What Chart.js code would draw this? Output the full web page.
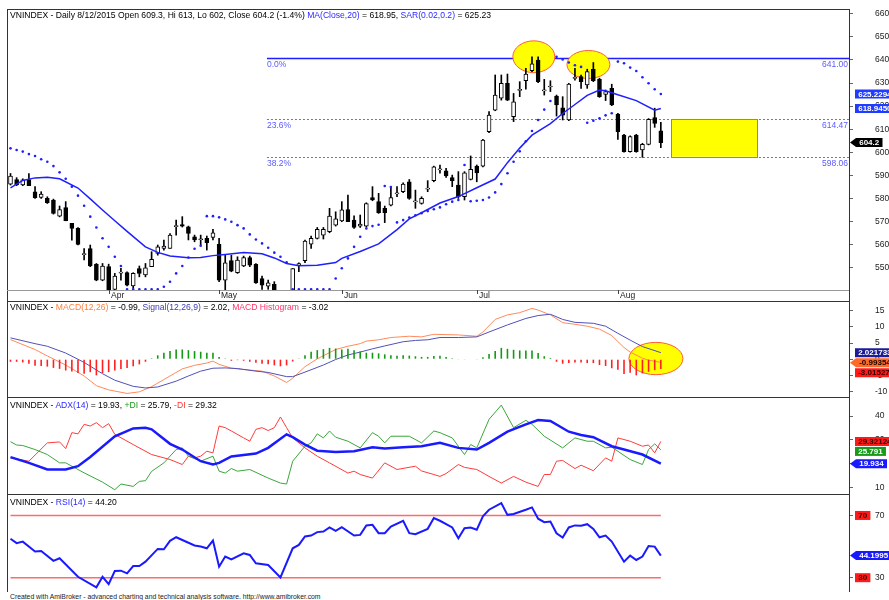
<!DOCTYPE html>
<html lang="en">
<head>
<meta charset="UTF-8" />
<title>VNINDEX Daily</title>
<style>
  body { margin: 0; background: #fff; font-family: "Liberation Sans", Arial, sans-serif; }
  #page { position: relative; width: 889px; height: 600px; overflow: hidden; background: #fff; }
  canvas { position: absolute; left: 0; }
  .hdr { position: absolute; left: 10px; font-size: 8.6px; line-height: 10px; color: #000; white-space: nowrap; z-index: 2; }
  .blue { color: #2a2aff; }
  .orange { color: #ff7f3f; }
  .navy { color: #3b3bb0; }
  .pink { color: #ff3366; }
  .green { color: #1a9a1a; }
  .red { color: #ff3333; }
  #foot { position: absolute; left: 10px; top: 593px; font-size: 6.8px; line-height: 8px; color: #222; white-space: nowrap; z-index: 2; }
</style>
<script src="https://cdn.jsdelivr.net/npm/chart.js@4.4.0/dist/chart.umd.min.js"></script>
</head>
<body>
<div id="page">
  <canvas id="cPrice" width="889" height="301" style="top:0"></canvas>
  <canvas id="cMacd" width="889" height="96" style="top:301px"></canvas>
  <canvas id="cAdx" width="889" height="97" style="top:397px"></canvas>
  <canvas id="cRsi" width="889" height="98" style="top:494px"></canvas>

  <div class="hdr" style="top:10px">VNINDEX - Daily 8/12/2015 Open 609.3, Hi 613, Lo 602, Close 604.2 (-1.4%) <span class="blue">MA(Close,20)</span> = 618.95, <span class="blue">SAR(0.02,0.2)</span> = 625.23</div>
  <div class="hdr" style="top:302px">VNINDEX - <span class="orange">MACD(12,26)</span> = -0.99, <span class="navy">Signal(12,26,9)</span> = 2.02, <span class="pink">MACD Histogram</span> = -3.02</div>
  <div class="hdr" style="top:400px">VNINDEX - <span class="blue">ADX(14)</span> = 19.93, <span class="green">+DI</span> = 25.79, <span class="red">-DI</span> = 29.32</div>
  <div class="hdr" style="top:497px">VNINDEX - <span class="blue">RSI(14)</span> = 44.20</div>
  <div id="foot">Created with AmiBroker - advanced charting and technical analysis software. http://www.amibroker.com</div>
</div>

<script>
// month starts (bar index of first trading day)
const monthNames = ["Apr", "May", "Jun", "Jul", "Aug"];
const monthStartIdx = [16, 34, 54, 76, 99];

// daily candles, one value per bar
const open = [
  586.2,588.2,585.8,588.2,582.9,580.4,580.0,579.3,572.3,576.0,
  569.2,567.0,555.6,558.3,551.4,544.6,550.4,540.5,547.6,547.8,
  542.1,549.6,546.8,550.4,556.2,558.3,558.3,567.8,568.7,567.7,
  563.4,562.1,562.7,563.1,560.1,544.6,553.0,547.8,550.7,554.3,
  551.4,545.3,542.0,542.8,539.5,535.5,536.0,550.8,553.0,560.2,
  562.7,564.1,565.6,568.4,570.2,575.2,570.6,568.0,568.0,580.4,
  578.6,575.7,577.1,582.0,582.9,587.2,578.5,577.8,584.0,587.7,
  592.4,592.0,589.0,585.8,580.7,588.2,594.0,594.0,608.9,618.3,
  623.4,629.9,615.4,626.8,631.0,635.4,640.0,626.6,628.3,624.4,
  619.3,614.0,632.0,632.8,629.2,636.0,631.6,625.1,627.7,616.6,
  607.5,600.3,607.5,601.0,603.4,615.0,609.3
];
const high = [
  590.8,589.0,588.5,590.8,585.1,582.9,580.7,579.7,576.7,578.6,
  569.2,567.4,558.3,559.8,551.8,551.8,551.5,547.5,549.7,548.2,
  547.8,550.7,551.8,556.9,559.8,561.9,564.8,570.6,572.1,568.0,
  564.1,564.1,563.7,566.6,562.7,555.4,555.4,554.7,555.0,555.0,
  551.8,546.3,544.6,543.9,540.1,539.0,549.6,552.1,561.9,563.7,
  567.4,567.4,575.7,574.2,578.6,581.4,572.4,572.8,578.1,585.1,
  582.2,576.7,585.1,585.1,586.8,588.2,583.6,580.7,587.7,594.0,
  594.5,593.0,590.1,591.6,591.6,598.4,594.5,605.6,617.6,633.5,
  633.5,633.9,625.5,630.6,636.4,641.4,641.4,631.6,631.0,624.8,
  624.1,629.9,636.4,633.5,636.0,638.9,632.1,627.0,629.5,616.9,
  607.8,607.1,607.8,603.9,614.6,619.1,613.0
];
const low = [
  585.8,585.5,585.5,585.5,580.0,580.0,577.8,573.2,572.0,570.3,
  561.9,559.8,553.3,550.4,544.3,544.3,538.5,539.5,544.6,542.1,
  541.0,546.0,546.0,550.4,555.4,557.6,558.3,564.1,567.6,562.0,
  561.2,559.8,557.6,562.0,543.9,540.3,548.2,547.5,550.4,550.4,
  543.1,540.6,540.6,540.0,533.5,532.0,535.5,548.2,552.1,558.3,
  562.4,562.4,565.1,568.0,569.9,569.9,567.0,567.4,567.7,579.0,
  573.5,569.5,576.7,580.7,582.5,579.6,575.7,577.5,582.9,587.2,
  590.9,589.1,585.1,580.0,579.3,588.0,587.2,593.7,608.5,618.0,
  622.6,622.4,613.3,624.1,627.3,634.9,630.2,624.8,626.3,615.7,
  614.0,613.7,631.3,627.7,627.7,630.6,623.8,622.4,620.2,605.6,
  600.0,600.0,600.0,597.8,603.2,610.8,602.0
];
const close = [
  589.7,585.8,588.0,585.5,580.3,581.9,578.1,573.5,575.2,570.3,
  567.0,560.1,555.8,550.7,544.6,550.7,539.5,546.3,548.0,542.4,
  547.5,547.5,549.9,553.6,559.0,559.3,564.1,568.1,568.0,564.8,
  562.0,562.3,560.8,565.1,544.6,552.1,548.5,553.3,554.3,551.1,
  543.4,542.4,543.4,540.3,535.0,533.5,549.6,551.8,561.5,562.7,
  566.6,566.6,572.3,571.1,575.0,569.9,567.4,568.9,577.8,579.3,
  573.8,573.8,580.4,582.3,586.2,580.0,578.7,580.0,584.2,593.7,
  592.7,589.7,587.7,580.7,591.1,592.6,591.1,605.3,616.1,624.8,
  629.9,622.6,621.9,627.2,633.9,638.3,630.6,626.8,628.5,620.5,
  616.1,629.6,632.2,630.6,635.0,631.0,624.1,626.3,620.5,608.9,
  600.3,606.8,600.3,603.4,614.3,612.5,604.2
];
// parabolic SAR, one value per bar
const sar = [
  601.7,601.0,600.3,599.2,598.4,597.0,595.9,594.0,591.3,588.5,
  585.1,581.2,576.8,572.1,567.4,562.7,559.0,554.7,550.7,540.6,
  540.6,540.6,540.6,540.6,540.6,541.7,543.9,547.5,550.7,554.4,
  558.2,559.5,572.3,572.3,571.8,570.9,569.9,568.4,567.0,564.4,
  562.2,560.5,558.6,556.5,554.7,552.3,540.6,540.6,540.6,540.6,
  540.6,540.6,540.6,545.3,549.7,554.0,559.0,563.4,567.0,568.0,
  568.6,585.4,584.9,569.6,570.6,571.7,572.7,573.6,574.5,575.3,
  576.1,577.5,578.6,579.3,594.5,578.8,579.0,579.3,580.4,582.6,
  586.2,590.9,595.9,600.4,604.8,609.2,614.0,618.5,622.2,641.4,
  640.2,638.9,637.7,637.0,612.8,613.7,614.7,616.0,616.9,639.3,
  638.6,636.7,635.2,632.5,629.9,627.3,625.23
];
// MA(Close,20), read at these bars
const maIdx = [0,2,4,6,8,11,13,15,17,19,22,24,26,29,31,33,35,38,41,43,45,47,50,53,54,57,60,63,65,67,70,73,76,79,81,83,85,88,90,92,94,96,97,99,102,105,106];
const maVal = [584.6,587.8,588.9,589.2,588.5,584.5,579.8,575.0,570.3,565.7,559.0,556.6,555.0,554.3,554.4,555.2,555.7,556.6,556.0,554.2,551.8,550.8,551.0,552.2,554.0,557.0,560.3,566.5,571.1,573.8,578.0,580.8,584.6,588.4,595.5,601.8,607.4,612.4,616.8,620.7,624.7,627.0,626.7,624.9,622.4,618.2,618.95];

// Fibonacci retracement levels
const fibNames = ["0.0%", "23.6%", "38.2%"];
const fibLevels = [641.00, 614.47, 598.06];

// MACD pane
const macdIdx = [0,4,6,9,12,14,16,19,21,23,25,28,30,32,33,34,36,38,41,43,45,46,48,50,53,55,57,58,60,62,65,67,69,71,73,76,77,79,81,83,85,86,88,90,92,94,96,98,100,101,103,104,106];
const macdVal = [6.05,3.0,1.0,-1.8,-5.2,-8.2,-9.5,-10.6,-10.1,-8.5,-6.3,-3.0,-1.9,-1.2,-0.6,-1.6,-2.8,-3.2,-3.7,-5.2,-7.2,-5.9,-2.3,0.1,3.0,4.0,4.8,5.6,6.0,6.7,7.1,6.9,7.7,7.6,7.5,7.1,8.4,12.3,13.7,14.4,15.7,15.2,13.7,11.3,10.8,10.2,9.3,7.3,3.6,2.2,0.3,-0.3,-0.99];
const signalIdx = [0,4,6,9,12,15,17,20,22,24,27,29,31,33,35,37,40,42,45,46,48,51,53,55,57,59,61,64,66,68,70,73,76,78,81,84,86,88,90,92,95,97,99,101,103,106];
const signalVal = [6.6,4.8,4.0,1.9,-1.0,-4.5,-6.5,-8.4,-8.9,-8.6,-6.8,-5.2,-3.7,-2.8,-2.7,-2.9,-3.7,-4.1,-5.4,-5.4,-4.0,-1.8,-0.1,1.3,2.2,3.2,4.1,5.4,5.8,6.0,6.7,6.7,6.9,8.4,10.6,12.6,13.5,13.9,12.3,11.4,11.1,10.2,8.0,5.9,3.9,2.02];
const histVal = [
  -0.8,-0.8,-1.0,-1.4,-2.0,-2.1,-2.3,-2.7,-3.0,-3.5,
  -3.8,-4.3,-4.5,-4.0,-5.0,-4.3,-4.0,-3.5,-3.0,-2.7,
  -2.2,-1.6,-0.8,0.3,1.2,2.0,2.5,3.0,3.0,2.8,
  2.5,2.3,2.0,2.0,0.7,0.05,-0.5,-0.3,-0.5,-0.8,
  -1.1,-1.4,-1.6,-1.9,-2.2,-1.9,-0.7,0.2,1.2,2.3,
  2.8,3.1,3.5,3.3,3.0,3.2,2.8,2.4,2.0,2.0,
  1.8,1.5,1.2,1.1,1.2,1.1,0.9,0.7,0.7,1.0,
  1.1,0.7,0.3,-0.2,-0.2,0.0,-0.2,0.6,1.6,2.5,
  3.5,3.2,2.9,2.7,2.7,2.7,1.9,0.9,0.4,-0.8,
  -1.4,-1.2,-1.0,-1.0,-1.2,-1.2,-1.8,-2.1,-2.8,-3.3,
  -4.6,-4.2,-5.0,-4.4,-3.9,-3.4,-3.02
];

// ADX pane
const adxIdx = [0,3,6,9,11,13,17,20,22,23,26,28,31,33,34,36,40,42,45,46,48,50,53,56,59,61,64,67,70,73,76,78,81,84,86,88,91,93,95,98,100,103,106];
const adxVal = [22.7,20.3,17.5,17.5,18.9,22.8,31.5,34.8,35.1,34.4,28.3,25.9,21.0,19.6,20.3,23.0,24.2,26.6,32.3,31.1,28.0,25.4,24.9,25.2,26.9,26.3,26.9,27.3,28.7,26.6,25.9,28.7,33.4,36.5,38.3,37.9,33.4,32.0,31.1,27.3,25.9,23.8,19.93];
const pdiIdx = [0,1,2,4,6,8,9,12,15,17,18,20,21,22,23,25,27,28,29,31,33,34,35,36,37,39,42,44,45,46,48,49,50,51,52,53,55,57,59,60,61,62,65,67,69,70,72,74,75,76,78,80,82,84,85,87,90,92,94,95,97,98,101,103,104,105,106];
const pdiVal = [29.2,27.8,27.6,25.9,23.8,20.3,20.3,16.1,12.2,9.0,11.4,10.4,12.5,12.8,16.7,20.3,25.9,26.6,23.1,21.0,23.1,16.8,16.0,17.9,16.8,17.5,13.9,11.8,11.4,21.0,27.3,28.7,32.5,30.8,33.7,31.1,29.4,26.6,33.0,31.5,28.7,31.5,31.5,28.7,33.7,33.0,30.8,23.8,28.0,26.6,38.6,44.6,35.1,38.2,36.5,31.5,26.6,30.8,29.4,29.4,26.6,26.9,21.7,19.6,25.9,28.3,25.79];
const mdiIdx = [0,3,6,8,9,10,11,12,13,14,15,16,17,20,23,26,28,29,30,31,32,33,34,35,36,38,39,40,41,42,43,44,45,46,48,50,52,55,56,57,59,61,63,66,67,69,70,71,73,74,76,78,80,82,84,86,87,88,89,90,92,93,95,97,98,99,101,103,104,105,106];
const mdiVal = [22.4,21.0,28.7,29.1,26.3,33.0,32.5,36.5,35.8,37.2,35.1,36.8,32.3,28.0,23.8,21.7,19.6,23.1,22.4,23.1,25.2,24.5,35.8,35.1,33.7,30.8,29.4,34.4,35.1,33.9,35.1,39.6,35.1,30.8,26.6,23.1,20.3,16.0,16.8,15.4,13.9,20.3,17.5,18.9,16.9,15.4,14.6,15.8,19.6,18.4,17.5,14.6,11.8,14.6,12.2,10.4,15.4,15.4,21.0,21.3,17.9,19.3,17.0,22.4,21.0,30.8,29.4,27.3,27.8,24.5,29.32];

// RSI pane
const rsiIdx = [0,1,2,4,5,7,8,11,14,15,16,17,18,19,20,21,22,24,25,26,27,30,31,32,33,34,35,36,38,39,40,42,44,46,47,48,49,50,51,52,53,54,56,57,58,59,60,61,62,64,65,66,68,69,70,72,73,74,75,76,77,78,80,81,82,84,85,86,87,88,89,90,91,92,93,94,95,96,97,98,100,101,102,103,104,105,106];
const rsiVal = [55.0,52.2,53.2,46.8,47.2,40.8,42.5,30.6,23.8,30.6,25.9,34.3,34.5,32.8,37.5,37.5,40.3,48.5,48.3,53.7,56.0,50.7,50.0,48.9,53.9,37.1,43.6,41.8,45.7,44.6,39.3,38.2,30.2,48.9,51.1,56.5,57.1,59.3,59.7,62.3,60.1,62.5,57.1,57.5,63.6,64.0,58.6,58.6,62.9,66.6,58.6,58.0,61.4,68.3,66.6,62.3,55.4,61.8,62.3,60.8,69.4,73.7,78.0,70.4,70.9,73.7,75.2,67.9,65.7,66.1,58.6,55.8,62.3,63.6,63.4,64.4,61.4,56.0,57.1,53.2,40.3,44.2,41.4,43.6,50.4,50.0,44.2];
const rsiLevels = [70, 30];

// axis ticks
const priceTicks = [550, 560, 570, 580, 590, 600, 610, 620, 630, 640, 650, 660];
const macdTicks = [15, 10, 5, 0, -5, -10];
const adxTicks = [40, 30, 20, 10];
const rsiTicks = [70, 30];

// drawn studies (in bar index / value units)
const priceEllipses = [
  { x: 85.3, y: 641.4, rx: 3.42, ry: 6.9 },
  { x: 94.2, y: 638.05, rx: 3.5, ry: 6.07 }
];
const macdEllipses = [{ x: 105.2, y: 0.2, rx: 4.4, ry: 5.0 }];
const fibStartIdx = 41.8;
const targetBox = { from: 107.7, to: 121.7 };

const FONT = '"Liberation Sans", Arial, sans-serif';
Chart.defaults.font.family = FONT;
Chart.defaults.animation = false;

const pts = (idx, val) => idx.map((x, k) => ({ x, y: val[k] }));
const lastBar = close.length - 1;

function yAxis(min, max, ticks) {
  return {
    position: "right", min, max,
    afterBuildTicks: s => { s.ticks = ticks.map(v => ({ value: v })); },
    afterFit: s => { s.width = 40; s.paddingTop = 0; s.paddingBottom = 0; },
    grid: { drawOnChartArea: false, tickLength: 4, tickColor: "#666" },
    border: { display: true, color: "#333", width: 1 },
    ticks: { padding: 22, color: "#222", autoSkip: false, font: { size: 8.5 } }
  };
}

function baseOptions(yMin, yMax, ticks, top, bottom) {
  return {
    responsive: false, animation: false, events: [],
    layout: { padding: { left: 7, right: 0, top, bottom } },
    plugins: { legend: { display: false }, tooltip: { enabled: false } },
    scales: {
      x: { type: "linear", min: -0.57, max: 136.67, offset: false, display: false, grid: { offset: false } },
      y: yAxis(yMin, yMax, ticks)
    }
  };
}

function drawEllipses(chart, list) {
  const { ctx, scales: { x, y } } = chart;
  list.forEach(e => {
    const cx = x.getPixelForValue(e.x), cy = y.getPixelForValue(e.y);
    const rx = Math.abs(x.getPixelForValue(e.x + e.rx) - cx);
    const ry = Math.abs(y.getPixelForValue(e.y + e.ry) - cy);
    ctx.beginPath();
    ctx.ellipse(cx, cy, rx, ry, 0, 0, Math.PI * 2);
    ctx.fillStyle = "#ffff00";
    ctx.fill();
    ctx.strokeStyle = "#ff5c3a";
    ctx.lineWidth = 1;
    ctx.stroke();
  });
}

function hline(ctx, x1, x2, y, color) {
  ctx.beginPath();
  ctx.strokeStyle = color; ctx.lineWidth = 1;
  ctx.moveTo(x1, Math.round(y) + 0.5); ctx.lineTo(x2, Math.round(y) + 0.5);
  ctx.stroke();
}
function vline(ctx, x, y1, y2, color) {
  ctx.beginPath();
  ctx.strokeStyle = color; ctx.lineWidth = 1;
  ctx.moveTo(Math.round(x) + 0.5, y1); ctx.lineTo(Math.round(x) + 0.5, y2);
  ctx.stroke();
}

// coloured value tags on the right axis
function drawTags(chart, tags) {
  const { ctx, chartArea: a, scales: { y } } = chart;
  ctx.save();
  ctx.font = "bold 8px " + FONT;
  ctx.textBaseline = "middle";
  ctx.textAlign = "left";
  const h = 9, gap = 10;
  const placed = tags.map(t => ({ ...t, py: y.getPixelForValue(t.value) })).sort((p, q) => p.py - q.py);
  for (let k = 1; k < placed.length; k++) {
    if (placed[k].py < placed[k - 1].py + gap) placed[k].py = placed[k - 1].py + gap;
  }
  placed.forEach(t => {
    const x0 = a.right + (t.arrow ? 7 : 6);
    const w = ctx.measureText(t.text).width + 6.5;
    ctx.fillStyle = t.bg;
    ctx.beginPath();
    if (t.arrow) {
      ctx.moveTo(a.right + 1, t.py);
      ctx.lineTo(x0, t.py - h / 2);
      ctx.lineTo(x0 + w, t.py - h / 2);
      ctx.lineTo(x0 + w, t.py + h / 2);
      ctx.lineTo(x0, t.py + h / 2);
      ctx.closePath();
    } else {
      ctx.rect(x0, t.py - h / 2, w, h);
    }
    ctx.fill();
    ctx.fillStyle = t.fg;
    ctx.fillText(t.text, x0 + 3.2, t.py + 0.5);
  });
  ctx.restore();
}

function paneFrame(chart, extendBottom) {
  const { ctx, chartArea: a } = chart;
  hline(ctx, a.left, a.right, a.top, "#333");
  vline(ctx, a.left, a.top, a.bottom + (extendBottom || 0), "#333");
}

// ---------- price pane ----------
const pricePlugin = {
  id: "priceDecor",
  beforeDatasetsDraw(chart) {
    const { ctx, chartArea: a, scales: { x, y } } = chart;
    ctx.save();
    const fx = x.getPixelForValue(fibStartIdx);
    ctx.font = "8.5px " + FONT;
    ctx.textBaseline = "middle";
    fibLevels.forEach((lv, k) => {
      const py = Math.round(y.getPixelForValue(lv)) + 0.5;
      ctx.beginPath();
      ctx.strokeStyle = k === 0 ? "#1f1fff" : "#6a6aff";
      ctx.lineWidth = k === 0 ? 1.6 : 1;
      ctx.setLineDash(k === 0 ? [] : [2, 2]);
      ctx.moveTo(fx, py); ctx.lineTo(a.right, py); ctx.stroke();
      ctx.setLineDash([]);
      ctx.fillStyle = "#5a5aff";
      ctx.textAlign = "left";
      ctx.fillText(fibNames[k], fx, py + 6.5);
      ctx.textAlign = "right";
      ctx.fillText(lv.toFixed(2), a.right - 1, py + 6.5);
    });
    // target zone between the 23.6% and 38.2% levels
    const bx1 = x.getPixelForValue(targetBox.from), bx2 = x.getPixelForValue(targetBox.to);
    const by1 = y.getPixelForValue(fibLevels[1]), by2 = y.getPixelForValue(fibLevels[2]);
    ctx.fillStyle = "#ffff00";
    ctx.fillRect(bx1, by1, bx2 - bx1, by2 - by1);
    ctx.strokeStyle = "#ff5c3a";
    ctx.lineWidth = 1;
    ctx.strokeRect(Math.round(bx1) + 0.5, Math.round(by1) + 0.5, Math.round(bx2 - bx1), Math.round(by2 - by1));
    drawEllipses(chart, priceEllipses);
    ctx.restore();
  },
  afterDraw(chart) {
    const { ctx, chartArea: a, scales: { x } } = chart;
    ctx.save();
    paneFrame(chart, 11);
    hline(ctx, a.left, a.right, a.bottom, "#999");
    vline(ctx, a.right, a.bottom, a.bottom + 11, "#333");
    ctx.font = "8.5px " + FONT;
    ctx.fillStyle = "#222";
    ctx.textBaseline = "middle";
    ctx.textAlign = "left";
    monthStartIdx.forEach((idx, k) => {
      const px = x.getPixelForValue(idx);
      vline(ctx, px, a.bottom, a.bottom + 4, "#444");
      ctx.fillText(monthNames[k], Math.round(px) + 2, a.bottom + 5.5);
    });
    ctx.restore();
    drawTags(chart, [
      { value: sar[lastBar], text: "625.2294", bg: "#1f3cff", fg: "#fff" },
      { value: maVal[maVal.length - 1], text: "618.9450", bg: "#1f3cff", fg: "#fff" },
      { value: close[lastBar], text: "604.2", bg: "#000", fg: "#fff", arrow: true }
    ]);
  }
};

new Chart(document.getElementById("cPrice"), {
  type: "bar",
  data: {
    datasets: [
      {
        type: "line", label: "SAR", data: sar.map((v, i) => ({ x: i, y: v })),
        showLine: false, pointRadius: 1.3, pointBackgroundColor: "#1f1fff", pointBorderWidth: 0
      },
      {
        type: "line", label: "MA20", data: pts(maIdx, maVal),
        borderColor: "#1f1fff", borderWidth: 1.5, pointRadius: 0, tension: 0
      },
      {
        label: "Body", data: open.map((o, i) => ({ x: i, y: [o, close[i]] })),
        backgroundColor: open.map((o, i) => close[i] < o ? "#000" : "#fff"),
        borderColor: "#000", borderWidth: 1, borderSkipped: false,
        barThickness: 4, minBarLength: 1, grouped: false
      },
      {
        label: "Wick", data: low.map((l, i) => ({ x: i, y: [l, high[i]] })),
        backgroundColor: "#000", borderWidth: 0, barThickness: 1, grouped: false
      }
    ]
  },
  options: baseOptions(540.3, 662.1, priceTicks, 9, 11),
  plugins: [pricePlugin]
});

// ---------- MACD pane ----------
const macdPlugin = {
  id: "macdDecor",
  beforeDatasetsDraw(chart) {
    chart.ctx.save();
    drawEllipses(chart, macdEllipses);
    chart.ctx.restore();
  },
  afterDraw(chart) {
    chart.ctx.save();
    paneFrame(chart);
    chart.ctx.restore();
    drawTags(chart, [
      { value: signalVal[signalVal.length - 1], text: "2.021733", bg: "#1c1c99", fg: "#fff" },
      { value: macdVal[macdVal.length - 1], text: "-0.993541", bg: "#ff6a2a", fg: "#1a0a00", arrow: true },
      { value: histVal[lastBar], text: "-3.015274", bg: "#ff1a1a", fg: "#300" }
    ]);
  }
};

new Chart(document.getElementById("cMacd"), {
  type: "bar",
  data: {
    datasets: [
      {
        label: "Histogram", data: histVal.map((v, i) => ({ x: i, y: v })),
        backgroundColor: histVal.map(v => v < 0 ? "#ff2020" : "#139a13"),
        borderWidth: 0, barThickness: 1.6, inflateAmount: 0, grouped: false
      },
      {
        type: "line", label: "Signal", data: pts(signalIdx, signalVal),
        borderColor: "#5050b8", borderWidth: 1, pointRadius: 0, tension: 0
      },
      {
        type: "line", label: "MACD", data: pts(macdIdx, macdVal),
        borderColor: "#ff8a5c", borderWidth: 1, pointRadius: 0, tension: 0
      }
    ]
  },
  options: baseOptions(-11.7, 18.0, macdTicks, 0, 0),
  plugins: [macdPlugin]
});

// ---------- ADX pane ----------
new Chart(document.getElementById("cAdx"), {
  type: "line",
  data: {
    datasets: [
      { label: "ADX", data: pts(adxIdx, adxVal), borderColor: "#1a1aff", borderWidth: 2.5, pointRadius: 0, tension: 0 },
      { label: "+DI", data: pts(pdiIdx, pdiVal), borderColor: "#3aa63a", borderWidth: 1, pointRadius: 0, tension: 0 },
      { label: "-DI", data: pts(mdiIdx, mdiVal), borderColor: "#ff3b3b", borderWidth: 1, pointRadius: 0, tension: 0 }
    ]
  },
  options: baseOptions(7.2, 48.0, adxTicks, 0, 0),
  plugins: [{
    id: "adxDecor",
    afterDraw(chart) {
      chart.ctx.save();
      paneFrame(chart);
      chart.ctx.restore();
      drawTags(chart, [
        { value: mdiVal[mdiVal.length - 1], text: "29.32124", bg: "#ff1a1a", fg: "#300" },
        { value: pdiVal[pdiVal.length - 1], text: "25.791", bg: "#1a9a1a", fg: "#fff" },
        { value: adxVal[adxVal.length - 1], text: "19.934", bg: "#1a1aff", fg: "#fff", arrow: true }
      ]);
    }
  }]
});

// ---------- RSI pane ----------
new Chart(document.getElementById("cRsi"), {
  type: "line",
  data: {
    datasets: [
      { label: "RSI", data: pts(rsiIdx, rsiVal), borderColor: "#1a1aff", borderWidth: 2, pointRadius: 0, tension: 0 },
      ...rsiLevels.map(lv => ({
        label: "L" + lv, data: [{ x: 0, y: lv }, { x: lastBar, y: lv }],
        borderColor: "#ff6b6b", borderWidth: 1.5, pointRadius: 0
      }))
    ]
  },
  options: baseOptions(20.8, 83.8, rsiTicks, 0, 0),
  plugins: [{
    id: "rsiDecor",
    afterDraw(chart) {
      chart.ctx.save();
      paneFrame(chart);
      chart.ctx.restore();
      drawTags(chart, [
        { value: rsiLevels[0], text: "70", bg: "#ff1a1a", fg: "#300" },
        { value: rsiVal[rsiVal.length - 1], text: "44.1995", bg: "#1a1aff", fg: "#fff", arrow: true },
        { value: rsiLevels[1], text: "30", bg: "#ff1a1a", fg: "#300" }
      ]);
    }
  }]
});
</script>
</body>
</html>
